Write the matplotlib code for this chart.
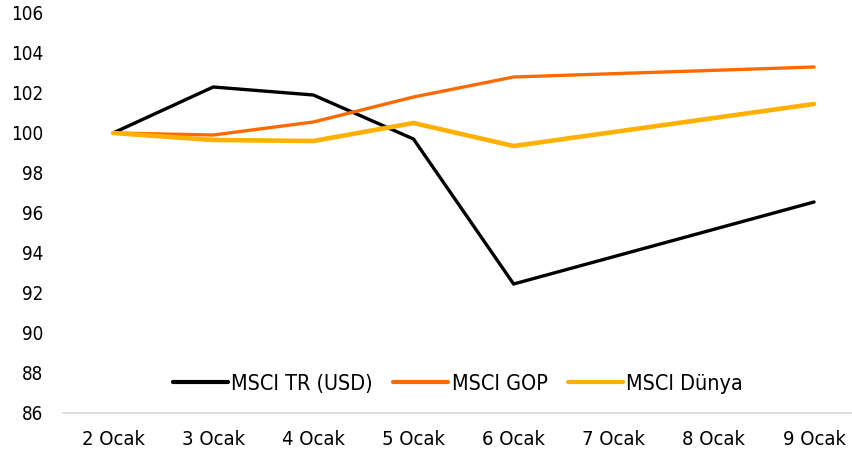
import numpy as np
import matplotlib
matplotlib.use("Agg")
import matplotlib.pyplot as plt

categories = ["2 Ocak", "3 Ocak", "4 Ocak", "5 Ocak", "6 Ocak", "7 Ocak", "8 Ocak", "9 Ocak"]
msci_tr = [100.0, 102.3, 101.9, 99.7, 92.45, np.nan, np.nan, 96.55]
msci_gop = [100.0, 99.9, 100.55, 101.8, 102.8, np.nan, np.nan, 103.3]
msci_dunya = [100.0, 99.65, 99.6, 100.5, 99.35, np.nan, np.nan, 101.45]
series_names = ["MSCI TR (USD)", "MSCI GOP", "MSCI Dünya"]
y_ticks = [86, 88, 90, 92, 94, 96, 98, 100, 102, 104, 106]

plt.rcParams['font.family'] = ['DejaVu Sans']
plt.rcParams['font.stretch'] = 'condensed'

fig = plt.figure(figsize=(8.53, 4.55), dpi=100)
ax = fig.add_axes([63/853, 42/455, 1 - 63/853, 400/455])

x = np.arange(len(categories))
series = [msci_tr, msci_gop, msci_dunya]
colors = ["#000000", "#FF6A00", "#FFB000"]
widths = [2.4, 2.4, 3.3]
for vals, c, w, n in zip(series, colors, widths, series_names):
    v = np.array(vals, dtype=float)
    m = ~np.isnan(v)
    ax.plot(x[m], v[m], color=c, lw=w, label=n, solid_capstyle='round', solid_joinstyle='miter')

ax.set_ylim(86, 106)
ax.set_yticks(y_ticks)
ax.set_xlim(-0.5, -0.5 + 790/100.14)
ax.set_xticks(x)
ax.set_xticklabels(categories)
for s in ["top", "right", "left"]:
    ax.spines[s].set_visible(False)
ax.spines["bottom"].set_color("#D9D9D9")
ax.spines["bottom"].set_linewidth(1.2)
ax.tick_params(axis='both', length=0, colors="#000000")
ax.tick_params(axis='y', pad=14, labelsize=13.5)
ax.tick_params(axis='x', pad=12, labelsize=14.5)

leg = ax.legend(loc='lower center', bbox_to_anchor=(0.5 - 0.0, 0.0), ncol=3, frameon=False,
                fontsize=15.5, handlelength=2.55, handletextpad=0.15, columnspacing=0.95)
for line in leg.get_lines():
    line.set_linewidth(3)

fig.savefig("out.png", dpi=100)
